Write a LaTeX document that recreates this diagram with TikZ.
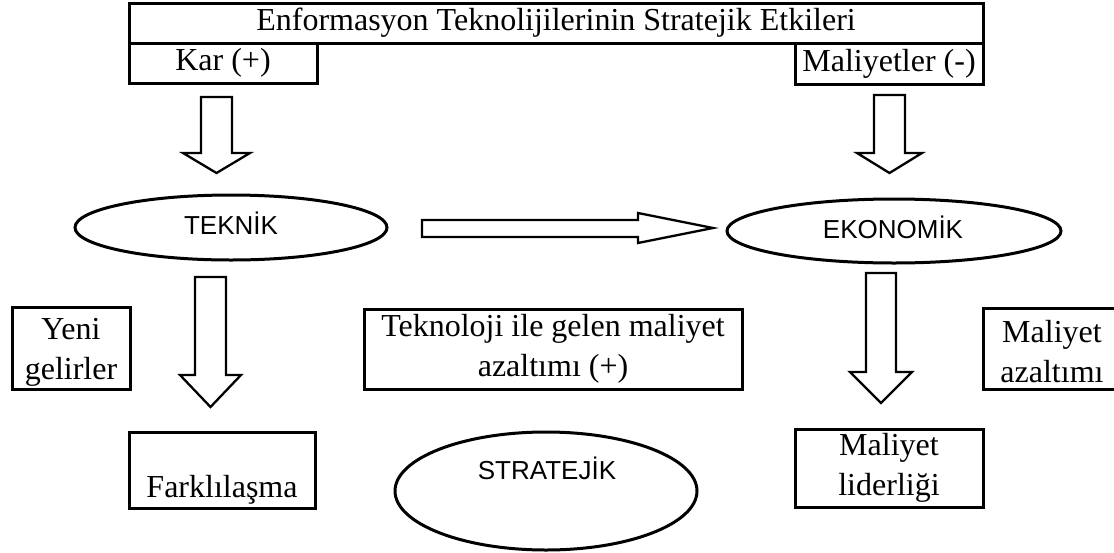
\documentclass[tikz,border=0pt]{standalone}
\usepackage{fontspec}
\setmainfont{Liberation Serif}
\newfontfamily\sansf{Liberation Sans}
\usetikzlibrary{shapes.geometric}
\begin{document}
\begin{tikzpicture}[x=1pt,y=-1pt,
  box/.style={draw, line width=3pt, rectangle, inner sep=0pt, align=center, font=\fontsize{32}{40}\selectfont},
  txt/.style={inner sep=0pt, align=center, font=\fontsize{32}{40}\selectfont},
  oval/.style={draw, line width=3pt, ellipse, inner sep=0pt},
  stxt/.style={inner sep=0pt, font=\sansf\fontsize{26}{30}\selectfont},
  barrow/.style={draw, line width=2.3pt, fill=white, line join=miter}]
\useasboundingbox (0,0) rectangle (1114,552);
% top boxes
\node[box, minimum width=854, minimum height=40] (title) at (556,23) {Enformasyon Teknolijilerinin Stratejik Etkileri};
\node[box, minimum width=188, minimum height=40] (kar) at (223,63) {Kar (+)};
\node[box, minimum width=188, minimum height=41] (maliyetler) at (889,63.5) {Maliyetler (-)};
% block arrows
\draw[barrow] (201,97)--(232,97)--(232,153)--(250,153)--(216.5,173)--(183,153)--(201,153)--cycle;
\draw[barrow] (874,95)--(905,95)--(905,153)--(922,153)--(889.5,173)--(857,153)--(874,153)--cycle;
\draw[barrow] (422,220)--(638,220)--(638,213)--(713,228)--(638,243)--(638,237)--(422,237)--cycle;
\draw[barrow] (195,277)--(226,277)--(226,375)--(241,375)--(210.5,407)--(180,375)--(195,375)--cycle;
\draw[barrow] (866,273)--(896,273)--(896,372)--(912,372)--(881,403)--(850,372)--(866,372)--cycle;
% ellipses
\node[oval, minimum width=312, minimum height=65] (teknik) at (231,227.5) {};
\node[stxt] (teknikt) at (231,223) {TEKNİK};
\node[oval, minimum width=334, minimum height=64] (ekonomik) at (894,231) {};
\node[stxt] (ekonomikt) at (893,227) {EKONOMİK};
\node[oval, minimum width=302, minimum height=118] (stratejik) at (546,491) {};
\node[stxt] (stratejikt) at (547,468) {STRATEJİK};
% middle boxes
\node[box, minimum width=118, minimum height=82] (yeni) at (71,348) {};
\node[txt] (yenit) at (71,352) {Yeni\\gelirler};
\node[box, minimum width=378, minimum height=80] (tekno) at (553,349) {Teknoloji ile gelen maliyet\\azaltımı (+)};
\node[box, minimum width=138, minimum height=81] (azalt) at (1052,348.5) {};
\node[txt] (azaltt) at (1052,352) {Maliyet\\azaltımı};
% bottom boxes
\node[box, minimum width=186, minimum height=76] (fark) at (222,470) {};
\node[txt, anchor=base] (farkt) at (222,497) {Farklılaşma};
\node[box, minimum width=188, minimum height=78] (lider) at (889,468) {Maliyet\\liderliği};
\end{tikzpicture}
\end{document}
